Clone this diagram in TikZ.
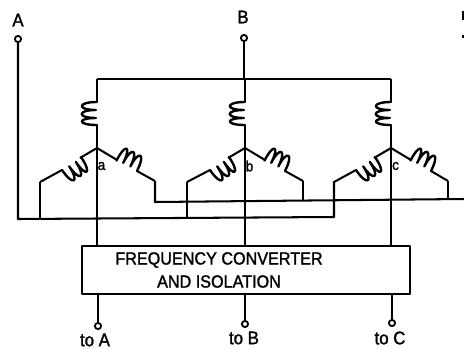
\documentclass[tikz,border=0pt]{standalone}
\usepackage{fontspec}
\setmainfont[FakeStretch=0.92,FakeBold=1.5]{Liberation Sans}
\tikzset{
    wire/.style={line width=1.45pt, line join=round},
    coilwire/.style={line width=1.7pt, line join=round, line cap=round},
    term/.style={circle, draw, line width=1.3pt, fill=white, inner sep=0pt, minimum size=4.4pt},
    lbl/.style={inner sep=0pt, font=\fontsize{13}{15}\selectfont},
    phase/.style={inner sep=0pt, font=\fontsize{10.5}{12}\selectfont},
    coil/.pic={
        \draw[coilwire] (0,0) .. controls (-20,0) and (-20,8) .. (-1,8)
            .. controls (-20,8) and (-20,16) .. (-1,16)
            .. controls (-20,16) and (-20,23) .. (0,23);
    }
}
\begin{document}
\begin{tikzpicture}[x=0.025cm, y=-0.025cm]
    \useasboundingbox (0,0) rectangle (464,348);

    \node[term] (tA) at (18,39) {};
    \node[term] (tB) at (244,38) {};
    \node[term] (oA) at (98,326) {};
    \node[term] (oB) at (245,324) {};
    \node[term] (oC) at (392,323) {};
    \node[lbl] (lA) at (18,20) {A};
    \node[lbl] (lB) at (243,17) {B};
    \node[lbl] (loA) at (95,340) {to A};
    \node[lbl] (loB) at (244,338) {to B};
    \node[lbl] (loC) at (390,338) {to C};

    \node[draw, wire, minimum width=0.025cm*328, minimum height=0.025cm*48, inner sep=0pt] (conv) at (246,270) {};
    \node[lbl, align=center, font=\fontsize{12.5}{16.4}\selectfont] (convtext) at (219,270) {FREQUENCY CONVERTER\\AND ISOLATION};

    \coordinate (top) at (97,79);
    \coordinate (topc) at (391,79);
    \draw[wire] (top) -- (topc);
    \draw[wire] (tB) -- (244,79);

    \foreach \n/\x/\xl/\xr in {a/97/40/155, b/245/187/303, c/391/334/448} {
        \coordinate (t\n) at (\x,79);
        \coordinate (s\n) at (\x,148);
        \coordinate (u\n) at (\x,102);
        \coordinate (v\n) at (\x,125);
        \draw[wire] (t\n) -- (u\n);
        \pic at (u\n) {coil};
        \draw[wire] (v\n) -- (s\n);
        \draw[wire] (s\n) -- (\x-17,158);
        \draw[wire] (s\n) -- (\x+20,160);
        \pic[rotate=124] at (\x-35,170) {coil};
        \pic[rotate=-117] at (\x+40,171) {coil};
        \draw[wire] (\x-35,170) -- (\xl,182);
        \draw[wire] (\x+40,171) -- (\xr,181);
        \draw[wire] (s\n) -- (s\n |- conv.north);
        \node[phase] (p\n) at (\x+4.5,166) {\n};
    }

    \coordinate (bus1) at (18,219);
    \coordinate (bus1r) at (334,217);
    \coordinate (bus2) at (155,202);
    \coordinate (bus2r) at (464,199);
    \draw[wire] (tA) -- (bus1) -- (bus1r) -- (334,181);
    \draw[wire] (155,181) -- (bus2) -- (bus2r);
    \draw[wire] (40,182) -- (40,219);
    \draw[wire] (187,182) -- (187,218);
    \draw[wire] (303,181) -- (303,200);
    \draw[wire] (448,181) -- (448,199);

    \draw[wire] (oA) -- (oA |- conv.south);
    \draw[wire] (oB) -- (oB |- conv.south);
    \draw[wire] (oC) -- (oC |- conv.south);

    \draw[wire] (463.5,11) -- (463.5,20);
    \draw[wire] (463.5,35) -- (463.5,38);
\end{tikzpicture}
\end{document}
